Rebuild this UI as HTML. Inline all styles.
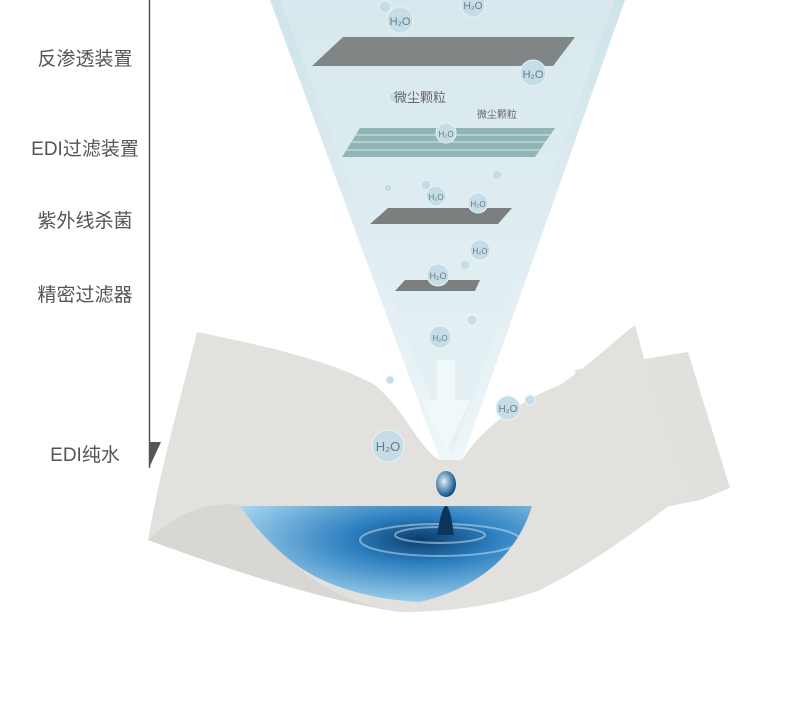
<!DOCTYPE html>
<html><head><meta charset="utf-8"><style>
html,body{margin:0;padding:0;background:#fff;}
body{width:790px;height:708px;overflow:hidden;position:relative;font-family:"Liberation Sans","Noto Sans CJK SC",sans-serif;}
.l{position:absolute;font-size:19px;color:#555;left:0;width:170px;text-align:center;}
</style></head><body>
<svg width="790" height="708" style="position:absolute;left:0;top:0">
<defs>
<linearGradient id="cone" x1="0" y1="0" x2="0" y2="1">
<stop offset="0" stop-color="#cfe3ea"/><stop offset="1" stop-color="#eef6f8"/></linearGradient>
<radialGradient id="water" cx="0.62" cy="0.35" r="0.7">
<stop offset="0" stop-color="#0b3c6a"/><stop offset="0.35" stop-color="#2c7fbf"/><stop offset="1" stop-color="#a8d6f0"/></radialGradient>
<radialGradient id="drop" cx="0.4" cy="0.4" r="0.6"><stop offset="0" stop-color="#dff0fa"/><stop offset="1" stop-color="#0d4f88"/></radialGradient>
</defs>
<line x1="149.5" y1="0" x2="149.5" y2="468" stroke="#555" stroke-width="1.5"/>
<polygon points="149,442 161,442 149,468" fill="#555"/>
<!-- tissue back piece -->
<polygon points="575,370 688,352 730,488 700,500 600,520" fill="#e2e0dc"/>
<!-- tissue main -->
<path d="M197,332 C260,345 330,360 375,385 C405,410 420,450 440,460 L462,460 C480,430 520,400 560,385 C590,365 615,340 635,325 C650,380 665,440 690,490 C650,520 600,560 540,590 C500,605 450,612 400,612 C320,600 230,570 148,540 C160,470 180,400 197,332 Z" fill="#e3e1de"/>
<path d="M148,540 C170,520 200,500 240,505 L290,560 C320,590 360,605 400,612 C320,600 230,570 148,540Z" fill="#d9d7d3"/>
<polygon points="270,0 625,0 462,460 440,460" fill="url(#cone)"/>
<polygon points="280,0 615,0 452,455" fill="#e0eef2" opacity="0.5"/>
<!-- water -->
<path d="M240,506 L532,506 C520,545 490,585 420,602 C370,600 320,585 290,560 C265,540 250,520 240,506 Z" fill="url(#water)"/>
<ellipse cx="440" cy="540" rx="80" ry="16" fill="none" stroke="#cfe8f8" stroke-width="2" opacity="0.5"/>
<ellipse cx="440" cy="535" rx="45" ry="8" fill="none" stroke="#cfe8f8" stroke-width="2" opacity="0.5"/>
<path d="M437,535 Q442,505 446,506 Q450,505 454,535Z" fill="#0d3559"/>
<ellipse cx="446" cy="484" rx="10" ry="13" fill="url(#drop)"/>
<!-- filters -->
<polygon points="312,66 343,37 575,37 553,66" fill="#808585"/>
<polygon points="342,157 360,128 555,128 535,157" fill="#8fb5b5"/>
<g stroke="#d8ecec" stroke-width="1">
<line x1="350" y1="142" x2="548" y2="142"/><line x1="345" y1="150" x2="540" y2="150"/><line x1="355" y1="135" x2="552" y2="135"/>
</g>
<polygon points="370,224 388,208 512,208 498,224" fill="#7b7f80"/>
<polygon points="395,291 405,280 480,280 475,291" fill="#7b7f80"/>
<polygon points="437,360 455,360 455,400 470,400 446,452 422,400 437,400" fill="#f2f8fa" opacity="0.9"/>
<g fill="#c5dde6" stroke="#e9f3f6">
<circle cx="400" cy="20" r="13"/><circle cx="473" cy="5" r="12"/><circle cx="533" cy="73" r="13"/>
<circle cx="446" cy="133" r="10"/><circle cx="436" cy="196" r="10"/><circle cx="478" cy="203" r="10"/>
<circle cx="480" cy="250" r="10"/><circle cx="438" cy="275" r="11"/><circle cx="440" cy="337" r="11"/>
<circle cx="508" cy="408" r="12"/><circle cx="388" cy="446" r="16"/>
<circle cx="385" cy="7" r="6"/><circle cx="395" cy="97" r="6"/><circle cx="388" cy="188" r="4"/>
<circle cx="497" cy="175" r="5"/><circle cx="465" cy="265" r="5"/><circle cx="472" cy="320" r="5"/>
<circle cx="530" cy="400" r="5"/><circle cx="390" cy="380" r="4"/><circle cx="426" cy="185" r="5"/>
</g>
<g font-family="Liberation Sans" fill="#6a7b84" text-anchor="middle">
<text x="400" y="25" font-size="11">H₂O</text><text x="473" y="9" font-size="10">H₂O</text>
<text x="533" y="78" font-size="11">H₂O</text><text x="446" y="137" font-size="8">H₂O</text>
<text x="436" y="200" font-size="8">H₂O</text><text x="478" y="207" font-size="8">H₂O</text>
<text x="480" y="254" font-size="8">H₂O</text><text x="438" y="279" font-size="9">H₂O</text>
<text x="440" y="341" font-size="8">H₂O</text><text x="508" y="412" font-size="10">H₂O</text>
<text x="388" y="451" font-size="13">H₂O</text>
</g>
<text x="420" y="102" font-size="13" fill="#666" text-anchor="middle" font-family="Liberation Sans,Noto Sans CJK SC,sans-serif">微尘颗粒</text>
<text x="497" y="118" font-size="10" fill="#666" text-anchor="middle" font-family="Liberation Sans,Noto Sans CJK SC,sans-serif">微尘颗粒</text>
</svg>
<div class="l" style="top:44px">反渗透装置</div>
<div class="l" style="top:134px">EDI过滤装置</div>
<div class="l" style="top:206px">紫外线杀菌</div>
<div class="l" style="top:280px">精密过滤器</div>
<div class="l" style="top:440px">EDI纯水</div>
</body></html>
